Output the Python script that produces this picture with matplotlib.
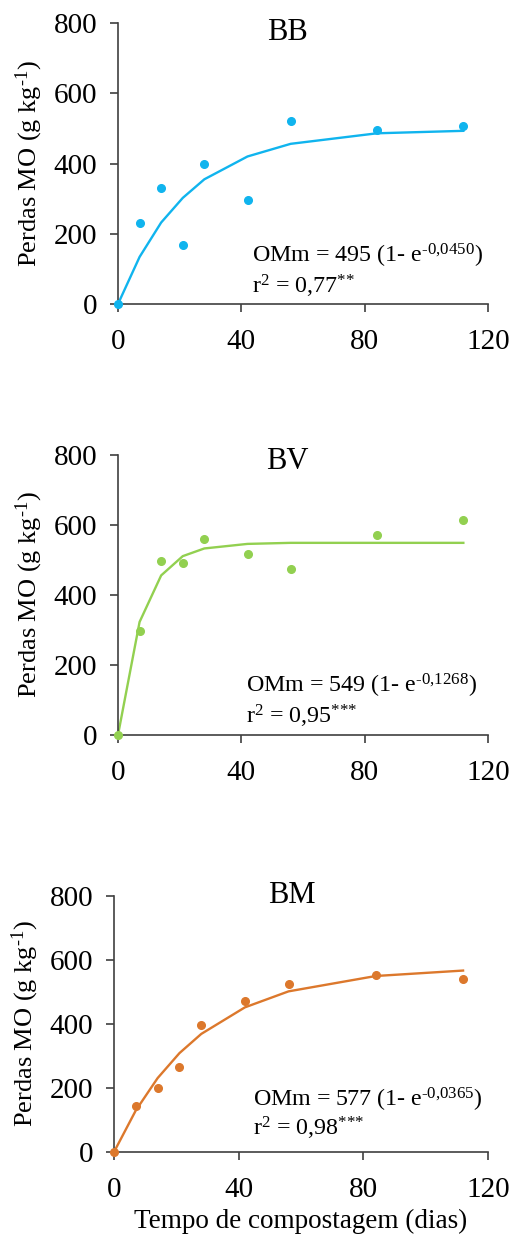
import matplotlib
matplotlib.use("Agg")
import matplotlib.pyplot as plt

plt.rcParams['font.family'] = ['Liberation Serif', 'DejaVu Serif']
plt.rcParams['mathtext.fontset'] = 'custom'
plt.rcParams['mathtext.rm'] = 'Liberation Serif'
plt.rcParams['mathtext.it'] = 'Liberation Serif'

days = [0, 7, 14, 21, 28, 42, 56, 84, 112]

bb_obs = [0, 230, 329, 169, 400, 296, 522, 494, 508]
bb_fit = [0, 134, 232, 302, 355, 420, 456, 486, 493]

bv_obs = [0, 298, 497, 491, 559, 516, 473, 572, 615]
bv_fit = [0, 323, 456, 511, 533, 546, 549, 549, 549]

bm_obs = [0, 143, 199, 266, 396, 473, 526, 552, 541]
bm_fit = [0, 130, 231, 309, 369, 452, 502, 550, 567]

HY = "\u2010"
titles = ["BB", "BV", "BM"]
eq_labels = ["OMm = 495 (1- e$^{\\mathrm{" + HY + "0{,}0450}}$)",
             "OMm = 549 (1- e$^{\\mathrm{" + HY + "0{,}1268}}$)",
             "OMm = 577 (1- e$^{\\mathrm{" + HY + "0{,}0365}}$)"]
r2_labels = ["r$^{\\mathrm{2}}$ = 0,77$^{{*}{*}}$",
             "r$^{\\mathrm{2}}$ = 0,95$^{{*}{*}{*}}$",
             "r$^{\\mathrm{2}}$ = 0,98$^{{*}{*}{*}}$"]
ylabel = "Perdas MO (g kg$^{\\mathrm{" + HY + "1}}$)"
xlabel = "Tempo de compostagem (dias)"
colors = ["#10B4EE", "#92D050", "#DC782C"]
xticks = [0, 40, 80, 120]
yticks = [0, 200, 400, 600, 800]

W, H = 511, 1235
fig = plt.figure(figsize=(W / 100, H / 100), dpi=100)

# axes boxes in pixels: left, right, top, bottom
boxes = [(118, 488, 23, 304), (118, 488, 455, 735), (114, 488, 896, 1152)]
eq_pos = [(43.5, 117, 31), (41.5, 120, 34), (44.6, 143, 53)]
title_pos = [(55, 774), (55, 780), (57, 803)]

series = [(bb_obs, bb_fit), (bv_obs, bv_fit), (bm_obs, bm_fit)]
for i, (l, r, t, b) in enumerate(boxes):
    ax = fig.add_axes([l / W, 1 - b / H, (r - l) / W, (b - t) / H])
    obs, fit = series[i]
    ax.plot(days, fit, color=colors[i], lw=1.7, zorder=2, clip_on=False)
    ax.plot(days, obs, 'o', color=colors[i], ms=5.5, zorder=3, clip_on=False)
    ax.set_xlim(0, 120)
    ax.set_ylim(0, 800)
    ax.set_xticks(xticks)
    ax.set_yticks(yticks)
    for s in ['top', 'right']:
        ax.spines[s].set_visible(False)
    for s in ['left', 'bottom']:
        ax.spines[s].set_color('#404040')
        ax.spines[s].set_linewidth(1.2)
    ax.tick_params(direction='out', length=6, width=1.2, color='#404040',
                   labelsize=21, colors='black')
    ax.tick_params(axis='x', pad=12)
    ax.tick_params(axis='y', pad=9)
    ax.set_ylabel(ylabel, fontsize=19, labelpad=6)
    tx, ty = title_pos[i]
    ax.text(tx, ty, titles[i], fontsize=22, ha='center', va='center',
            clip_on=False)
    ex, ey1, ey2 = eq_pos[i]
    ax.text(ex, ey1, eq_labels[i], fontsize=17.3, ha='left', va='baseline')
    ax.text(ex, ey2, r2_labels[i], fontsize=17.3, ha='left', va='baseline')
    if i == 2:
        ax.set_xlabel(xlabel, fontsize=19.5, labelpad=4)

fig.savefig("out.png", dpi=100)
